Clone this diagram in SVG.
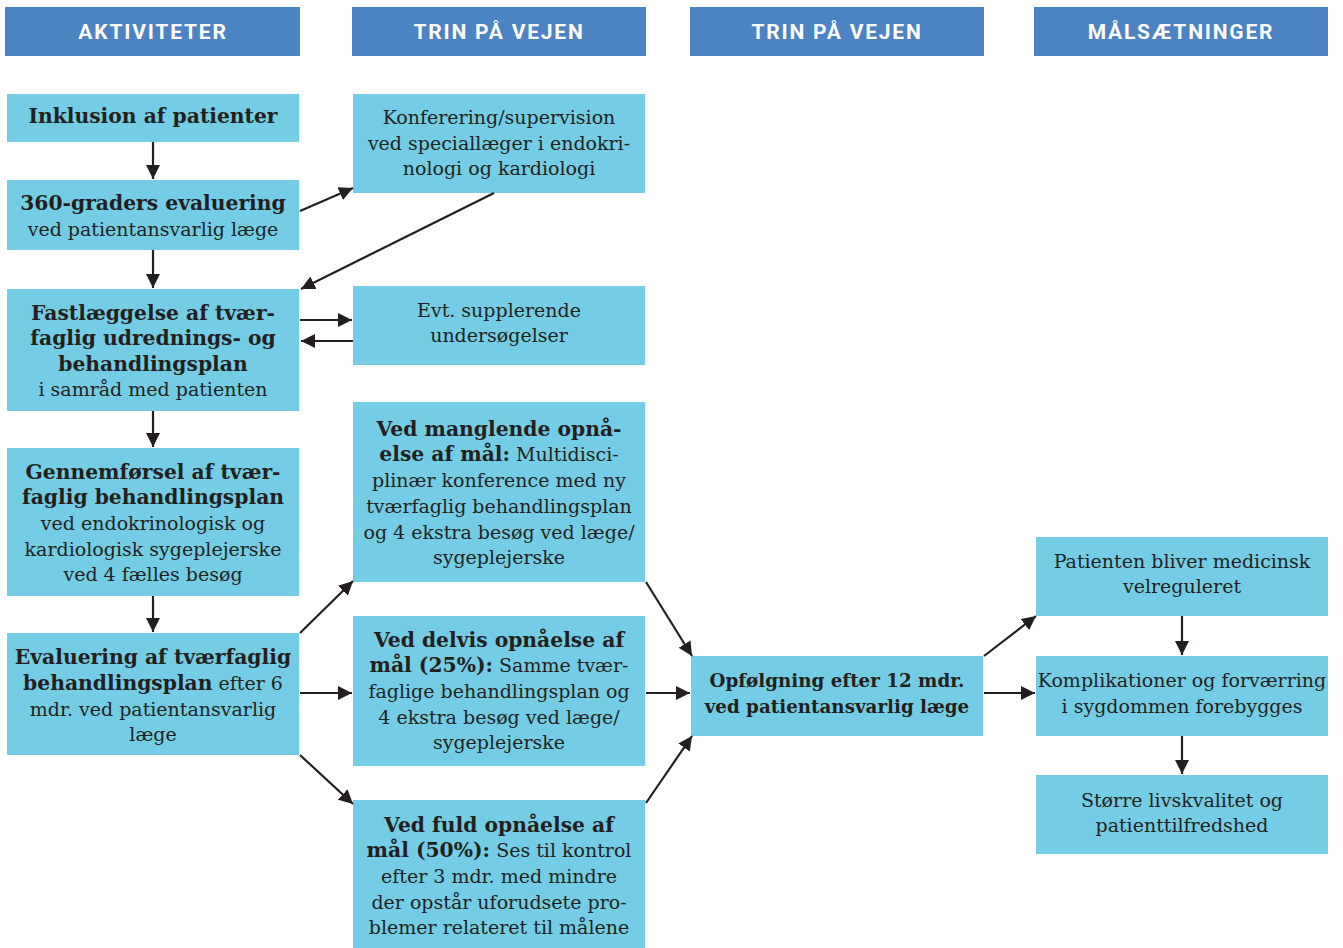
<svg xmlns="http://www.w3.org/2000/svg" width="1343" height="948" viewBox="0 0 1343 948">
<style>
.hdr{fill:#4b83c3}
.hdrt{fill:#ffffff;font-family:Roboto,"DejaVu Sans",sans-serif;font-weight:bold;font-size:21px;letter-spacing:1.8px;text-anchor:middle}
.box{fill:#74cde4}
.t{fill:#231f20;font-family:"DejaVu Serif",serif;font-size:19px;text-anchor:middle}
.b{font-weight:bold;font-size:20.3px}
.bo{font-weight:bold;font-size:18.3px}
.c line{stroke:#231f20;stroke-width:2.2;marker-end:url(#ah)}
</style>
<defs>
<marker id="ah" markerUnits="userSpaceOnUse" markerWidth="16" markerHeight="14" refX="14" refY="7" orient="auto">
<path d="M0,0 L14,7 L0,14 Z" fill="#231f20"/>
</marker>
</defs>
<rect width="1343" height="948" fill="#ffffff"/>
<g id="headers">
<rect class="hdr" x="5" y="7" width="295" height="49"/>
<text class="hdrt" x="153" y="39">AKTIVITETER</text>
<rect class="hdr" x="352" y="7" width="294" height="49"/>
<text class="hdrt" x="499" y="39">TRIN PÅ VEJEN</text>
<rect class="hdr" x="690" y="7" width="294" height="49"/>
<text class="hdrt" x="837" y="39">TRIN PÅ VEJEN</text>
<rect class="hdr" x="1034" y="7" width="294" height="49"/>
<text class="hdrt" x="1181" y="39">MÅLSÆTNINGER</text>
</g>
<g id="n-inklusion">
<rect class="box" x="7" y="94" width="292" height="48"/>
<text class="t b" x="153" y="123">Inklusion af patienter</text>
</g>
<g id="n-360">
<rect class="box" x="7" y="180" width="292" height="70"/>
<text class="t" x="153" y="210"><tspan class="b">360-graders evaluering</tspan><tspan x="153" y="236">ved patientansvarlig læge</tspan></text>
</g>
<g id="n-fastlaeggelse">
<rect class="box" x="7" y="289" width="292" height="122"/>
<text class="t" x="153" y="320"><tspan class="b">Fastlæggelse af tvær-</tspan><tspan class="b" x="153" y="345">faglig udrednings- og</tspan><tspan class="b" x="153" y="371">behandlingsplan</tspan><tspan x="153" y="396">i samråd med patienten</tspan></text>
</g>
<g id="n-gennemfoersel">
<rect class="box" x="7" y="448" width="292" height="148"/>
<text class="t" x="153" y="479"><tspan class="b">Gennemførsel af tvær-</tspan><tspan class="b" x="153" y="504">faglig behandlingsplan</tspan><tspan x="153" y="530">ved endokrinologisk og</tspan><tspan x="153" y="556">kardiologisk sygeplejerske</tspan><tspan x="153" y="581">ved 4 fælles besøg</tspan></text>
</g>
<g id="n-evaluering">
<rect class="box" x="7" y="633" width="292" height="122"/>
<text class="t" x="153" y="664"><tspan class="b">Evaluering af tværfaglig</tspan><tspan x="153" y="690"><tspan class="b">behandlingsplan</tspan> efter 6</tspan><tspan x="153" y="716">mdr. ved patientansvarlig</tspan><tspan x="153" y="741">læge</tspan></text>
</g>
<g id="n-konferering">
<rect class="box" x="353" y="94" width="292" height="99"/>
<text class="t" x="499" y="124">Konferering/supervision<tspan x="499" y="150">ved speciallæger i endokri-</tspan><tspan x="499" y="175">nologi og kardiologi</tspan></text>
</g>
<g id="n-evt">
<rect class="box" x="353" y="286" width="292" height="79"/>
<text class="t" x="499" y="317">Evt. supplerende<tspan x="499" y="342">undersøgelser</tspan></text>
</g>
<g id="n-manglende">
<rect class="box" x="353" y="402" width="292" height="180"/>
<text class="t" x="499" y="436"><tspan class="b">Ved manglende opnå-</tspan><tspan x="499" y="461"><tspan class="b">else af mål:</tspan> Multidisci-</tspan><tspan x="499" y="487">plinær konference med ny</tspan><tspan x="499" y="513">tværfaglig behandlingsplan</tspan><tspan x="499" y="539">og 4 ekstra besøg ved læge/</tspan><tspan x="499" y="564">sygeplejerske</tspan></text>
</g>
<g id="n-delvis">
<rect class="box" x="353" y="616" width="292" height="150"/>
<text class="t" x="499" y="647"><tspan class="b">Ved delvis opnåelse af</tspan><tspan x="499" y="672"><tspan class="b">mål (25%):</tspan> Samme tvær-</tspan><tspan x="499" y="698">faglige behandlingsplan og</tspan><tspan x="499" y="724">4 ekstra besøg ved læge/</tspan><tspan x="499" y="749">sygeplejerske</tspan></text>
</g>
<g id="n-fuld">
<rect class="box" x="353" y="800" width="292" height="148"/>
<text class="t" x="499" y="832"><tspan class="b">Ved fuld opnåelse af</tspan><tspan x="499" y="857"><tspan class="b">mål (50%):</tspan> Ses til kontrol</tspan><tspan x="499" y="883">efter 3 mdr. med mindre</tspan><tspan x="499" y="909">der opstår uforudsete pro-</tspan><tspan x="499" y="934">blemer relateret til målene</tspan></text>
</g>
<g id="n-opfoelgning">
<rect class="box" x="691" y="656" width="292" height="80"/>
<text class="t bo" x="837" y="687">Opfølgning efter 12 mdr.<tspan x="837" y="713">ved patientansvarlig læge</tspan></text>
</g>
<g id="n-patienten">
<rect class="box" x="1036" y="537" width="292" height="79"/>
<text class="t" x="1182" y="568">Patienten bliver medicinsk<tspan x="1182" y="593">velreguleret</tspan></text>
</g>
<g id="n-komplikationer">
<rect class="box" x="1036" y="656" width="292" height="80"/>
<text class="t" x="1182" y="687">Komplikationer og forværring<tspan x="1182" y="713">i sygdommen forebygges</tspan></text>
</g>
<g id="n-stoerre">
<rect class="box" x="1036" y="775" width="292" height="79"/>
<text class="t" x="1182" y="807">Større livskvalitet og<tspan x="1182" y="832">patienttilfredshed</tspan></text>
</g>
<g id="connectors" class="c">
<line x1="153" y1="142" x2="153" y2="179"/>
<line x1="300" y1="211" x2="353" y2="188"/>
<line x1="494" y1="193" x2="301" y2="289"/>
<line x1="153" y1="250" x2="153" y2="288"/>
<line x1="300" y1="320" x2="352" y2="320"/>
<line x1="353" y1="341" x2="301" y2="341"/>
<line x1="153" y1="411" x2="153" y2="447"/>
<line x1="153" y1="596" x2="153" y2="632"/>
<line x1="300" y1="633" x2="353" y2="581"/>
<line x1="300" y1="693" x2="352" y2="693"/>
<line x1="300" y1="755" x2="353" y2="804"/>
<line x1="646" y1="582" x2="692" y2="656"/>
<line x1="646" y1="693" x2="690" y2="693"/>
<line x1="646" y1="803" x2="692" y2="736"/>
<line x1="984" y1="656" x2="1036" y2="616"/>
<line x1="984" y1="693" x2="1035" y2="693"/>
<line x1="1182" y1="616" x2="1182" y2="655"/>
<line x1="1182" y1="736" x2="1182" y2="774"/>
</g>
</svg>
